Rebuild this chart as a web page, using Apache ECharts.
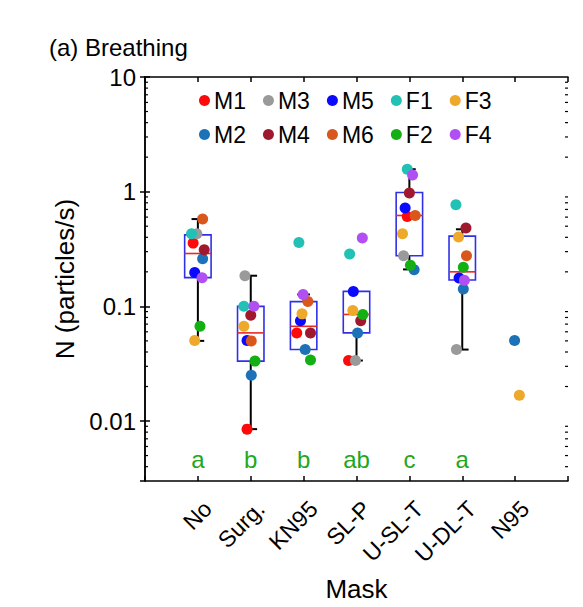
<!DOCTYPE html>
<html>
<head>
<meta charset="utf-8">
<script src="https://cdn.jsdelivr.net/npm/echarts@6/dist/echarts.min.js"></script>
<style>
html,body{margin:0;padding:0;background:#fff;}
#chart{width:583px;height:607px;}
</style>
</head>
<body>
<div id="chart"></div>
<script>
// ---- data ----
const categories = ['No', 'Surg.', 'KN95', 'SL-P', 'U-SL-T', 'U-DL-T', 'N95'];
const significance = ['a', 'b', 'b', 'ab', 'c', 'a'];
const yTicks = [0.01, 0.1, 1, 10];

// per-subject values (particles/s) for each mask category
const M1 = [0.356, 0.0085, 0.0587, 0.0337, 0.608, null, null];
const M2 = [0.26, 0.0251, 0.042, 0.0587, 0.209, 0.142, 0.0503];
const M3 = [0.43, 0.185, null, 0.0337, 0.276, 0.042, null];
const M4 = [0.312, 0.0836, 0.0587, 0.075, 0.972, 0.482, null];
const M5 = [0.197, 0.0503, 0.075, 0.135, 0.72, 0.177, null];
const M6 = [0.577, 0.050, 0.11, null, 0.62, 0.276, null];
const F1 = [0.43, 0.1, 0.361, 0.286, 1.57, 0.77, null];
const F2 = [0.067, 0.0333, 0.0341, 0.085, 0.228, 0.219, null];
const F3 = [0.0503, 0.067, 0.086, 0.092, 0.43, 0.403, 0.0168];
const F4 = [0.178, 0.1, 0.127, 0.395, 1.40, 0.169, null];

// horizontal jitter of each point (category units) as seen in the reference
const jM1 = [-0.09, -0.07, -0.13, -0.15, -0.04, 0, 0];
const jM2 = [0.09, 0.01, 0.03, 0.02, 0.09, 0.02, -0.01];
const jM3 = [-0.02, -0.11, 0, -0.02, -0.11, -0.11, 0];
const jM4 = [0.12, 0, 0.13, 0.08, 0, 0.07, 0];
const jM5 = [-0.06, -0.07, -0.06, -0.06, -0.08, -0.06, 0];
const jM6 = [0.09, 0.01, 0.08, 0, 0.11, 0.08, 0];
const jF1 = [-0.12, -0.13, -0.09, -0.13, -0.04, -0.12, 0];
const jF2 = [0.04, 0.08, 0.13, 0.12, 0.02, 0.02, 0];
const jF3 = [-0.06, -0.13, -0.03, -0.07, -0.13, -0.07, 0.08];
const jF4 = [0.08, 0.06, -0.01, 0.11, 0.06, 0.04, 0];

// box statistics per category (N95 has no box)
const boxLow = [0.050, 0.0085, 0.042, 0.0337, 0.21, 0.042, null];
const boxQ1 = [0.178, 0.0333, 0.042, 0.0587, 0.276, 0.17, null];
const boxMed = [0.289, 0.0587, 0.067, 0.085, 0.62, 0.2, null];
const boxQ3 = [0.42, 0.1, 0.11, 0.135, 0.984, 0.41, null];
const boxHigh = [0.577, 0.185, 0.127, 0.135, 1.57, 0.47, null];

// ---- styling ----
const FONT = "'Liberation Sans', Arial, Helvetica, sans-serif";
const subjects = [
  {name: 'M1', v: M1, j: jM1, color: '#ff0a0a'},
  {name: 'M2', v: M2, j: jM2, color: '#1b72b8'},
  {name: 'M3', v: M3, j: jM3, color: '#9a9a9a'},
  {name: 'M4', v: M4, j: jM4, color: '#a0182e'},
  {name: 'M5', v: M5, j: jM5, color: '#0a0aff'},
  {name: 'M6', v: M6, j: jM6, color: '#d9571c'},
  {name: 'F1', v: F1, j: jF1, color: '#22c1b5'},
  {name: 'F2', v: F2, j: jF2, color: '#12b012'},
  {name: 'F3', v: F3, j: jF3, color: '#eea82a'},
  {name: 'F4', v: F4, j: jF4, color: '#b04ff2'}
];
const Y_MIN = 0.003, Y_MAX = 10, X_MIN = 0, X_MAX = 8;
const LETTER_Y = 0.0046;

const chart = echarts.init(document.getElementById('chart'), null, {renderer: 'svg'});

// box series data
const boxData = [];
categories.forEach((c, i) => {
  if (boxQ1[i] != null) boxData.push([i + 1, boxLow[i], boxQ1[i], boxMed[i], boxQ3[i], boxHigh[i]]);
});

// minor tick values (axis decoration, 2..9 within each decade)
const minorTicks = [];
for (let e = -3; e <= 0; e++) {
  for (let m = 2; m <= 9; m++) {
    const v = m * Math.pow(10, e);
    if (v > Y_MIN && v < Y_MAX) minorTicks.push([X_MIN, v]);
  }
}

const scatterSeries = subjects.map(s => ({
  name: s.name,
  type: 'scatter',
  symbol: 'circle',
  symbolSize: 11,
  itemStyle: {color: s.color, opacity: 1},
  z: 5,
  data: categories.map((c, i) => s.v[i] == null ? null : [i + 1 + s.j[i], s.v[i]]).filter(d => d)
}));

const axisLine = {show: true, lineStyle: {color: '#000', width: 1.5}};

const option = {
  animation: false,
  backgroundColor: '#fff',
  textStyle: {fontFamily: FONT},
  title: {
    text: '(a) Breathing',
    left: 49, top: 35, padding: 0,
    textStyle: {fontFamily: FONT, fontSize: 24, fontWeight: 'normal', color: '#000'}
  },
  legend: [
    {data: ['M1', 'M3', 'M5', 'F1', 'F3'], left: 199, top: 89},
    {data: ['M2', 'M4', 'M6', 'F2', 'F4'], left: 199, top: 123}
  ].map(l => Object.assign(l, {
    orient: 'horizontal', icon: 'circle', itemWidth: 11, itemHeight: 11, itemGap: 17, padding: 0,
    selectedMode: false,
    textStyle: {fontFamily: FONT, fontSize: 23, color: '#000', padding: [0, 0, 0, -1]}
  })),
  grid: {left: 145, right: 15, top: 77, bottom: 126},
  xAxis: [
    {
      type: 'value', min: X_MIN, max: X_MAX, interval: 1, position: 'bottom',
      name: 'Mask', nameLocation: 'middle', nameGap: 95,
      nameTextStyle: {fontFamily: FONT, fontSize: 26, color: '#000'},
      axisLine: axisLine,
      axisTick: {show: true, inside: true, length: 5, lineStyle: {color: '#000', width: 1.5}},
      splitLine: {show: false},
      axisLabel: {
        rotate: 45, margin: 14, fontFamily: FONT, fontSize: 23, color: '#000',
        align: 'right', verticalAlign: 'top', lineHeight: 28,
        formatter: v => categories[v - 1] || ''
      }
    },
    {
      type: 'value', min: X_MIN, max: X_MAX, interval: 1, position: 'top',
      axisLine: axisLine,
      axisTick: {show: true, inside: true, length: 5, lineStyle: {color: '#000', width: 1.5}},
      splitLine: {show: false},
      axisLabel: {show: false}
    }
  ],
  yAxis: [
    {
      type: 'log', logBase: 10, min: Y_MIN, max: Y_MAX, position: 'left',
      name: 'N (particles/s)', nameLocation: 'middle', nameGap: 60,
      nameTextStyle: {fontFamily: FONT, fontSize: 26, color: '#000'},
      axisLine: axisLine,
      axisTick: {show: true, inside: true, length: 5, lineStyle: {color: '#000', width: 1.5}},
      splitLine: {show: false},
      minorTick: {show: false},
      axisLabel: {
        margin: 9, fontFamily: FONT, fontSize: 24, color: '#000',
        showMinLabel: false,
        formatter: v => {
          const hit = yTicks.find(t => Math.abs(Math.log10(v) - Math.log10(t)) < 1e-6);
          return hit == null ? '' : String(hit);
        }
      }
    },
    {
      type: 'log', logBase: 10, min: Y_MIN, max: Y_MAX, position: 'right',
      axisLine: axisLine,
      axisTick: {show: true, inside: true, length: 5, lineStyle: {color: '#000', width: 1.5}},
      splitLine: {show: false},
      axisLabel: {show: false}
    }
  ],
  series: [
    {
      type: 'custom',
      name: 'minorTicks',
      z: 3,
      silent: true,
      data: minorTicks,
      renderItem: (params, api) => {
        const v = api.value(1);
        const pl = api.coord([X_MIN, v]);
        const pr = api.coord([X_MAX, v]);
        return {
          type: 'group',
          children: [
            {type: 'line', shape: {x1: pl[0], y1: pl[1], x2: pl[0] + 3, y2: pl[1]}, style: {stroke: '#000', lineWidth: 1.2}},
            {type: 'line', shape: {x1: pr[0], y1: pr[1], x2: pr[0] - 3, y2: pr[1]}, style: {stroke: '#000', lineWidth: 1.2}}
          ]
        };
      }
    },
    {
      type: 'custom',
      name: 'box',
      z: 2,
      silent: true,
      data: boxData,
      renderItem: (params, api) => {
        const x = api.value(0);
        const lo = api.coord([x, api.value(1)]);
        const q1 = api.coord([x, api.value(2)]);
        const md = api.coord([x, api.value(3)]);
        const q3 = api.coord([x, api.value(4)]);
        const hi = api.coord([x, api.value(5)]);
        const halfBox = api.size([0.25, 0])[0];
        const halfCap = api.size([0.12, 0])[0];
        const cx = q1[0];
        const children = [];
        const blk = {stroke: '#000', lineWidth: 2};
        if (Math.abs(hi[1] - q3[1]) > 0.5) {
          children.push({type: 'line', shape: {x1: cx, y1: q3[1], x2: cx, y2: hi[1]}, style: blk});
          children.push({type: 'line', shape: {x1: cx - halfCap, y1: hi[1], x2: cx + halfCap, y2: hi[1]}, style: blk});
        }
        if (Math.abs(lo[1] - q1[1]) > 0.5) {
          children.push({type: 'line', shape: {x1: cx, y1: q1[1], x2: cx, y2: lo[1]}, style: blk});
          children.push({type: 'line', shape: {x1: cx - halfCap, y1: lo[1], x2: cx + halfCap, y2: lo[1]}, style: blk});
        }
        children.push({type: 'rect', shape: {x: cx - halfBox, y: q3[1], width: 2 * halfBox, height: q1[1] - q3[1]},
          style: {fill: 'none', stroke: '#3030e8', lineWidth: 1.6}});
        children.push({type: 'line', shape: {x1: cx - halfBox, y1: md[1], x2: cx + halfBox, y2: md[1]},
          style: {stroke: '#e82828', lineWidth: 1.6}});
        return {type: 'group', children: children};
      }
    },
    {
      type: 'custom',
      name: 'letters',
      z: 4,
      silent: true,
      data: significance.map((s, i) => [i + 1, LETTER_Y]),
      renderItem: (params, api) => {
        const p = api.coord([api.value(0), api.value(1)]);
        return {
          type: 'text', x: p[0], y: p[1],
          style: {text: significance[params.dataIndex], fill: '#1ea81e', font: '24px ' + FONT, align: 'center', verticalAlign: 'middle'}
        };
      }
    }
  ].concat(scatterSeries)
};

chart.setOption(option);
</script>
</body>
</html>
